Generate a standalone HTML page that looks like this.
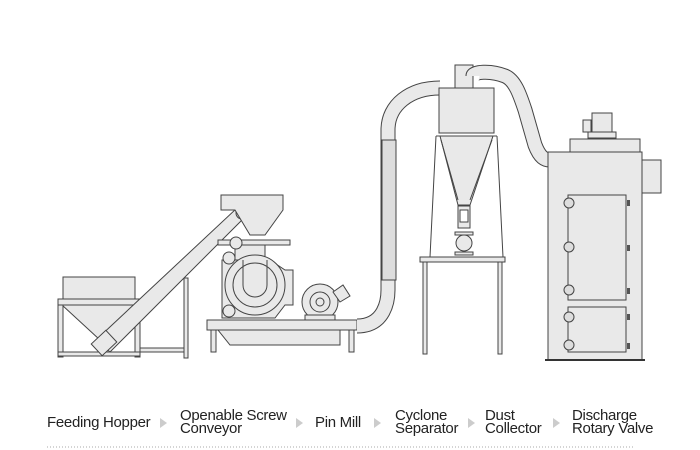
<!DOCTYPE html>
<html><head><meta charset="utf-8"><style>
body{margin:0;background:#fff;width:700px;height:450px;overflow:hidden;font-family:"Liberation Sans",Arial,sans-serif}
.l{position:absolute;font-size:15px;line-height:13px;color:#222;letter-spacing:-0.3px}
.a{position:absolute;width:0;height:0;border-top:5px solid transparent;border-bottom:5px solid transparent;border-left:7px solid #ccc}
</style></head><body>
<svg width="700" height="450" style="position:absolute;left:0;top:0" fill="#e9e9e9" stroke="#444" stroke-width="1">
<!-- Hopper -->
<rect x="63" y="277" width="72" height="22"/>
<rect x="58" y="299" width="82" height="6"/>
<polygon points="62,305 136,305 112,340 100,340"/>
<rect x="58" y="305" width="5" height="52"/><rect x="135" y="305" width="5" height="52"/>
<rect x="58" y="352" width="82" height="4"/>
<rect x="140" y="348" width="48" height="4"/>
<rect x="184" y="278" width="4" height="80"/>
<!-- Screw conveyor -->
<polygon points="96,340 237,208 246,216 110,352"/>
<rect x="94" y="335" width="20" height="16" transform="rotate(-43 104 343)"/>
<circle cx="242" cy="213" r="6"/>
<!-- Pin mill -->
<polygon points="221,195 283,195 283,210 265,235 250,235 235,210 221,210"/>
<rect x="218" y="240" width="72" height="5"/>
<rect x="235" y="245" width="30" height="15"/>
<path d="M222,260 H270 L285,270 H293 V305 H285 L275,318 H222 Z"/>
<circle cx="255" cy="285" r="30" fill="#e9e9e9"/>
<circle cx="255" cy="285" r="22" fill="none"/>
<path d="M243,260 V285 A12,12 0 0 0 267,285 V260" fill="none"/>
<circle cx="229" cy="258" r="6"/><circle cx="229" cy="311" r="6"/>
<circle cx="236" cy="243" r="6"/>
<rect x="207" y="320" width="150" height="10"/>
<polygon points="218,330 340,330 340,345 230,345"/>
<rect x="211" y="330" width="5" height="22"/><rect x="349" y="330" width="5" height="22"/>
<circle cx="320" cy="302" r="18"/><circle cx="320" cy="302" r="10" fill="none"/><circle cx="320" cy="302" r="4" fill="none"/>
<rect x="305" y="315" width="30" height="5"/>
<polygon points="333,292 343,285 350,296 340,302"/>
<!-- Pipe mill->cyclone -->
<path d="M357,326 C385,326 388,300 388,290 V130 C388,105 410,88 440,88" fill="none" stroke="#444" stroke-width="15"/>
<path d="M357,326 C385,326 388,300 388,290 V130 C388,105 410,88 440,88" fill="none" stroke="#e9e9e9" stroke-width="13"/>
<rect x="382" y="140" width="14" height="140" fill="#ddd"/>
<!-- Cyclone -->
<rect x="455" y="65" width="18" height="24"/>
<rect x="439" y="88" width="55" height="45"/>
<polygon points="440,136 493,136 470,205 458,205"/>
<rect x="458" y="206" width="12" height="22"/><rect x="460" y="210" width="8" height="12" fill="#fff"/>
<circle cx="464" cy="243" r="8"/><rect x="455" y="232" width="18" height="3"/><rect x="455" y="252" width="18" height="3"/>
<path d="M436,136 L430,257 M497,136 L503,257 M436,136 H497 M441,140 L458,200 M492,140 L470,200" fill="none"/>
<rect x="420" y="257" width="85" height="5"/>
<rect x="423" y="262" width="4" height="92"/><rect x="498" y="262" width="4" height="92"/>
<!-- Pipe cyclone->collector -->
<path d="M473,76 C473,72 490,70 505,76 C515,80 520,95 525,110 L535,145 C540,158 545,160 550,160" fill="none" stroke="#444" stroke-width="15"/>
<path d="M473,76 C473,72 490,70 505,76 C515,80 520,95 525,110 L535,145 C540,158 545,160 550,160" fill="none" stroke="#e9e9e9" stroke-width="13"/>
<!-- Dust collector -->
<rect x="570" y="139" width="70" height="13"/>
<rect x="592" y="113" width="20" height="20"/><rect x="588" y="132" width="28" height="6"/>
<rect x="583" y="120" width="8" height="12"/>
<rect x="548" y="152" width="94" height="208"/>
<rect x="642" y="160" width="19" height="33"/>
<rect x="568" y="195" width="58" height="105"/>
<rect x="568" y="307" width="58" height="45"/>
<g fill="#ddd"><circle cx="569" cy="203" r="5"/><circle cx="569" cy="247" r="5"/><circle cx="569" cy="290" r="5"/><circle cx="569" cy="317" r="5"/><circle cx="569" cy="345" r="5"/></g>
<g fill="#555" stroke="none"><rect x="627" y="200" width="3" height="6"/><rect x="627" y="245" width="3" height="6"/><rect x="627" y="288" width="3" height="6"/><rect x="627" y="314" width="3" height="6"/><rect x="627" y="343" width="3" height="6"/></g>
<line x1="545" y1="360" x2="645" y2="360" stroke="#333" stroke-width="2"/>
<line x1="47" y1="447" x2="634" y2="447" stroke="#aaa" stroke-dasharray="1,2"/>
</svg>
<div class="l" style="left:47px;top:416px">Feeding Hopper</div>
<div class="a" style="left:160px;top:418px"></div>
<div class="l" style="left:180px;top:409px">Openable Screw<br>Conveyor</div>
<div class="a" style="left:296px;top:418px"></div>
<div class="l" style="left:315px;top:416px">Pin Mill</div>
<div class="a" style="left:374px;top:418px"></div>
<div class="l" style="left:395px;top:409px">Cyclone<br>Separator</div>
<div class="a" style="left:468px;top:418px"></div>
<div class="l" style="left:485px;top:409px">Dust<br>Collector</div>
<div class="a" style="left:553px;top:418px"></div>
<div class="l" style="left:572px;top:409px">Discharge<br>Rotary Valve</div>
</body></html>
